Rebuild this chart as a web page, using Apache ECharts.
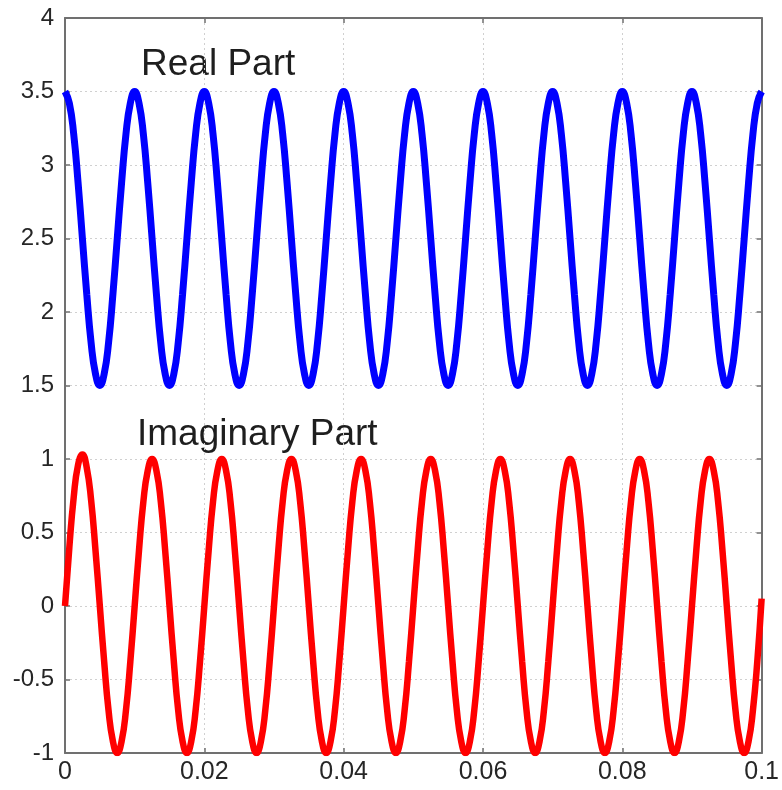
<!DOCTYPE html>
<html>
<head>
<meta charset="utf-8">
<script src="https://cdn.jsdelivr.net/npm/echarts@6/dist/echarts.min.js"></script>
<style>html,body{margin:0;padding:0;background:#fff}#c{width:782px;height:790px}</style>
</head>
<body>
<div id="c"></div>
<script>
// sample times (s): 0 .. 0.1 in steps of 0.000625
var timeValues = [];
for (var i = 0; i <= 160; i++) { timeValues.push(+(i * 0.000625).toFixed(6)); }

// Real part values
var realPart = [
  3.5,3.42,3.21,2.88,2.5,2.12,1.79,1.58,1.5,1.58,1.79,2.12,2.5,2.88,3.21,3.42,
  3.5,3.42,3.21,2.88,2.5,2.12,1.79,1.58,1.5,1.58,1.79,2.12,2.5,2.88,3.21,3.42,
  3.5,3.42,3.21,2.88,2.5,2.12,1.79,1.58,1.5,1.58,1.79,2.12,2.5,2.88,3.21,3.42,
  3.5,3.42,3.21,2.88,2.5,2.12,1.79,1.58,1.5,1.58,1.79,2.12,2.5,2.88,3.21,3.42,
  3.5,3.42,3.21,2.88,2.5,2.12,1.79,1.58,1.5,1.58,1.79,2.12,2.5,2.88,3.21,3.42,
  3.5,3.42,3.21,2.88,2.5,2.12,1.79,1.58,1.5,1.58,1.79,2.12,2.5,2.88,3.21,3.42,
  3.5,3.42,3.21,2.88,2.5,2.12,1.79,1.58,1.5,1.58,1.79,2.12,2.5,2.88,3.21,3.42,
  3.5,3.42,3.21,2.88,2.5,2.12,1.79,1.58,1.5,1.58,1.79,2.12,2.5,2.88,3.21,3.42,
  3.5,3.42,3.21,2.88,2.5,2.12,1.79,1.58,1.5,1.58,1.79,2.12,2.5,2.88,3.21,3.42,
  3.5,3.42,3.21,2.88,2.5,2.12,1.79,1.58,1.5,1.58,1.79,2.12,2.5,2.88,3.21,3.42,
  3.5
];
// Imaginary part values
var imagPart = [
  0,0.4,0.74,0.96,1.03,0.94,0.72,0.38,0,-0.38,-0.71,-0.92,-1,-0.92,-0.71,-0.38,
  0,0.38,0.71,0.92,1,0.92,0.71,0.38,0,-0.38,-0.71,-0.92,-1,-0.92,-0.71,-0.38,
  0,0.38,0.71,0.92,1,0.92,0.71,0.38,0,-0.38,-0.71,-0.92,-1,-0.92,-0.71,-0.38,
  0,0.38,0.71,0.92,1,0.92,0.71,0.38,0,-0.38,-0.71,-0.92,-1,-0.92,-0.71,-0.38,
  0,0.38,0.71,0.92,1,0.92,0.71,0.38,0,-0.38,-0.71,-0.92,-1,-0.92,-0.71,-0.38,
  0,0.38,0.71,0.92,1,0.92,0.71,0.38,0,-0.38,-0.71,-0.92,-1,-0.92,-0.71,-0.38,
  0,0.38,0.71,0.92,1,0.92,0.71,0.38,0,-0.38,-0.71,-0.92,-1,-0.92,-0.71,-0.38,
  0,0.38,0.71,0.92,1,0.92,0.71,0.38,0,-0.38,-0.71,-0.92,-1,-0.92,-0.71,-0.38,
  0,0.38,0.71,0.92,1,0.92,0.71,0.38,0,-0.38,-0.71,-0.92,-1,-0.92,-0.71,-0.38,
  0,0.38,0.71,0.92,1,0.92,0.71,0.38,0,-0.38,-0.71,-0.92,-1,-0.92,-0.71,-0.38,
  0.05
];
var xTickLabels = ['0','0.02','0.04','0.06','0.08','0.1'];
var yTickLabels = ['-1','-0.5','0','0.5','1','1.5','2','2.5','3','3.5','4'];
var annotations = ['Real Part', 'Imaginary Part'];

function pairs(xs, ys) { return xs.map(function (x, i) { return [x, ys[i]]; }); }

var chart = echarts.init(document.getElementById('c'), null, { renderer: 'canvas' });
var font = 'Liberation Sans, Arial, sans-serif';
var axisLine = { show: true, onZero: false, lineStyle: { color: '#707070', width: 2 } };
var axisTick = { show: true, inside: true, length: 5, lineStyle: { color: '#707070', width: 1.5 } };
var splitLine = { show: true, lineStyle: { color: '#d0d0d0', type: [2, 3], width: 1 } };

chart.setOption({
  animation: false,
  grid: { left: 65, right: 19, top: 18, bottom: 37, containLabel: false },
  xAxis: [{
    type: 'value', min: 0, max: 0.1, interval: 0.02,
    axisLine: axisLine, axisTick: axisTick, splitLine: splitLine,
    axisLabel: { color: '#262626', fontSize: 25, fontFamily: font, margin: 7,
      formatter: function (v) { return xTickLabels[Math.round(v / 0.02)]; } }
  }, {
    type: 'value', min: 0, max: 0.1, interval: 0.02, position: 'top',
    axisLine: axisLine, axisTick: axisTick, splitLine: { show: false }, axisLabel: { show: false }
  }],
  yAxis: [{
    type: 'value', min: -1, max: 4, interval: 0.5,
    axisLine: axisLine, axisTick: axisTick, splitLine: splitLine,
    axisLabel: { color: '#262626', fontSize: 24, fontFamily: font, margin: 11,
      formatter: function (v) { return yTickLabels[Math.round((v + 1) / 0.5)]; } }
  }, {
    type: 'value', min: -1, max: 4, interval: 0.5, position: 'right',
    axisLine: axisLine, axisTick: axisTick, splitLine: { show: false }, axisLabel: { show: false }
  }],
  series: [{
    type: 'line', name: 'Real', data: pairs(timeValues, realPart), smooth: true,
    showSymbol: false, lineStyle: { color: '#0000ff', width: 7 }, clip: true
  }, {
    type: 'line', name: 'Imag', data: pairs(timeValues, imagPart), smooth: true,
    showSymbol: false, lineStyle: { color: '#ff0000', width: 6.5 }, clip: true
  }],
  graphic: [
    { type: 'text', left: 141, top: 46, style: { text: annotations[0], fontSize: 37, fontFamily: font, fill: '#1e1e1e' } },
    { type: 'text', left: 137, top: 416, style: { text: annotations[1], fontSize: 37, fontFamily: font, fill: '#1e1e1e' } }
  ]
});
</script>
</body>
</html>
